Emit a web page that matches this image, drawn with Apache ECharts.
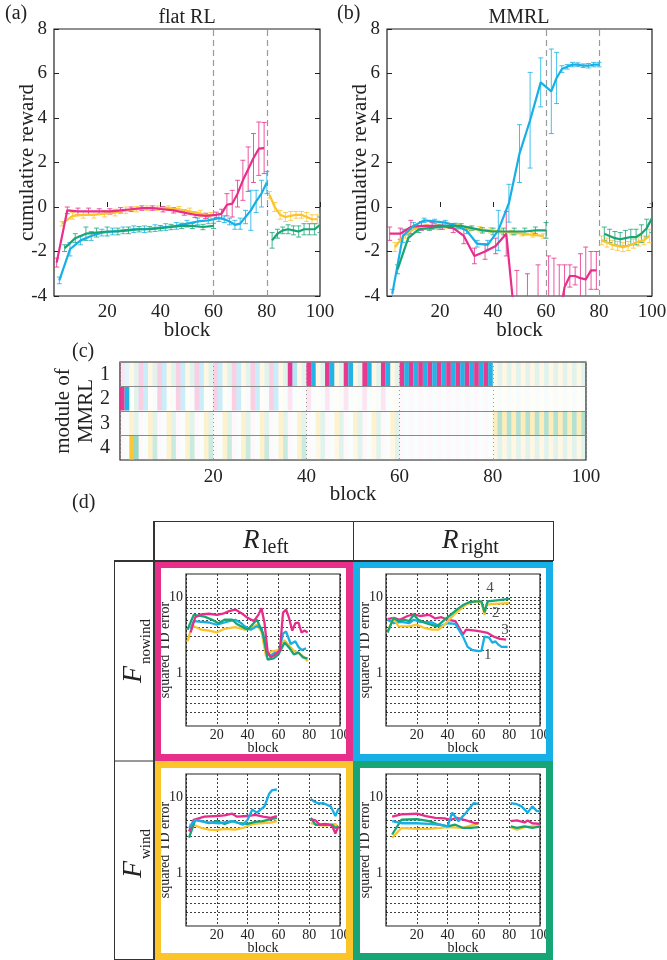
<!DOCTYPE html>
<html>
<head>
<meta charset="utf-8">
<title>flat RL vs MMRL</title>
<script src="https://cdn.jsdelivr.net/npm/echarts@6.0.0/dist/echarts.min.js"></script>
<style>
html, body { margin: 0; padding: 0; background: #fff; }
#chart { width: 667px; height: 960px; }
</style>
</head>
<body>
<div id="chart"></div>
<script>
// blocks in which each condition was run (1-60 cycle of four, 61-80 no wind, 81-100 wind)
var blocksM = [1,5,9,13,17,21,25,29,33,37,41,45,49,53,57,61,63,65,67,69,71,73,75,77,79];
var blocksC = [2,6,10,14,18,22,26,30,34,38,42,46,50,54,58,62,64,66,68,70,72,74,76,78,80];
var blocksY = [3,7,11,15,19,23,27,31,35,39,43,47,51,55,59,81,83,85,87,89,91,93,95,97,99];
var blocksG = [4,8,12,16,20,24,28,32,36,40,44,48,52,56,60,82,84,86,88,90,92,94,96,98,100];

// (a) flat RL : mean cumulative reward and error
var flatMeanM = [-2.5,-0.15,-0.2,-0.2,-0.2,-0.2,-0.15,-0.1,-0.05,-0.05,-0.1,-0.15,-0.25,-0.35,-0.4,-0.35,-0.3,0.1,0.15,0.6,1.2,1.7,2.2,2.62,2.65];
var flatErrM  = [0.2,0.15,0.15,0.15,0.12,0.12,0.12,0.1,0.1,0.1,0.12,0.12,0.12,0.12,0.12,0.12,0.2,0.5,0.6,0.6,0.9,1.0,1.1,1.2,1.15];
var flatMeanC = [-3.3,-1.9,-1.5,-1.3,-1.15,-1.1,-1.05,-1.0,-1.0,-0.95,-0.9,-0.85,-0.75,-0.65,-0.6,-0.5,-0.55,-0.65,-0.8,-0.75,-0.45,-0.15,0.25,0.6,1.1];
var flatErrC  = [0.15,0.3,0.2,0.2,0.15,0.15,0.15,0.15,0.15,0.15,0.15,0.15,0.15,0.15,0.15,0.15,0.15,0.15,0.2,0.25,0.3,0.9,0.5,0.6,0.5];
var flatMeanY = [-0.75,-0.4,-0.35,-0.35,-0.3,-0.25,-0.15,-0.1,-0.05,-0.05,-0.05,-0.1,-0.2,-0.3,-0.4,0.55,0.0,-0.35,-0.45,-0.4,-0.35,-0.35,-0.45,-0.55,-0.55];
var flatErrY  = [0.1,0.15,0.15,0.15,0.15,0.15,0.15,0.12,0.1,0.1,0.1,0.12,0.15,0.15,0.15,0.15,0.2,0.2,0.2,0.2,0.15,0.15,0.2,0.2,0.2];
var flatMeanG = [-1.85,-1.4,-1.2,-1.15,-1.1,-1.1,-1.05,-1.0,-1.0,-0.95,-0.9,-0.85,-0.85,-0.9,-0.85,-1.5,-1.2,-1.05,-1.0,-1.05,-1.1,-1.0,-1.0,-1.0,-0.8];
var flatErrG  = [0.15,0.2,0.3,0.2,0.2,0.15,0.15,0.12,0.12,0.12,0.12,0.12,0.12,0.12,0.12,0.35,0.2,0.15,0.2,0.2,0.25,0.25,0.25,0.25,0.35];

// (b) MMRL
var mmrlMeanM = [-1.2,-1.2,-0.9,-0.85,-0.85,-0.85,-0.95,-1.3,-2.2,-2.0,-1.75,-1.2,-6.0,-6.0,-6.0,-6.0,-6.0,-5.0,-3.6,-3.1,-3.1,-3.2,-3.25,-2.85,-2.85];
var mmrlErrM  = [0.3,0.25,0.3,0.2,0.15,0.15,0.2,0.35,0.35,0.35,0.35,1.0,3.15,3.0,3.4,3.8,3.7,2.4,1.0,0.5,0.4,1.1,1.45,0.85,0.85];
var mmrlMeanC = [-3.9,-1.3,-0.85,-0.6,-0.65,-0.7,-0.85,-1.05,-1.65,-1.7,-1.05,0.17,2.4,3.9,5.6,5.2,5.8,6.2,6.3,6.4,6.4,6.35,6.35,6.4,6.4];
var mmrlErrC  = [0.2,0.3,0.15,0.1,0.1,0.1,0.12,0.15,0.15,0.2,0.9,0.85,1.3,2.15,1.1,1.9,1.15,0.15,0.1,0.1,0.08,0.08,0.1,0.1,0.1];
var mmrlMeanY = [-1.8,-1.2,-0.95,-0.9,-0.9,-0.85,-0.9,-1.0,-1.0,-1.05,-1.1,-1.15,-1.2,-1.25,-1.3,-1.5,-1.6,-1.7,-1.75,-1.8,-1.75,-1.65,-1.55,-1.5,-1.3];
var mmrlErrY  = [0.2,0.2,0.15,0.12,0.12,0.12,0.12,0.12,0.12,0.12,0.1,0.1,0.1,0.1,0.1,0.2,0.2,0.2,0.2,0.2,0.2,0.2,0.2,0.2,0.3];
var mmrlMeanG = [-2.8,-1.4,-1.0,-0.95,-0.9,-0.85,-0.85,-0.95,-1.05,-1.1,-1.1,-1.1,-1.1,-1.05,-1.05,-1.2,-1.3,-1.4,-1.45,-1.4,-1.35,-1.35,-1.2,-0.95,-0.5];
var mmrlErrG  = [0.2,0.15,0.15,0.1,0.1,0.1,0.1,0.1,0.12,0.15,0.15,0.15,0.15,0.15,0.35,0.3,0.3,0.3,0.3,0.35,0.35,0.35,0.4,0.4,0.65];

var phaseBounds = [60, 80];

// (c) condition of each block and responsibility of modules 1-4 (digit 0-9)
var blockCond = ('MCYGMCYGMCYGMCYGMCYG' + 'MCYGMCYGMCYGMCYGMCYG' + 'MCYGMCYGMCYGMCYGMCYG' +
                 'MCMCMCMCMCMCMCMCMCMC' + 'YGYGYGYGYGYGYGYGYGYG').split('');
var moduleRows = [
    '11112211221122112211' + '22112211221122119311' + '99119911991199119911' + '99999999999999999999' + '11111111111111111111',
    '99012200220022002200' + '22002200220022001000' + '10001000100010001000' + '00000000000000000000' + '00000000000000000000',
    '00210021002100210021' + '00210021002100210021' + '00210021002100210021' + '00000000000000000000' + '33333333333333333333',
    '00940022002200220022' + '00220022002200220022' + '00110011001100110011' + '00000000000000000000' + '11111111111111111111'
];
var moduleNames = ['1', '2', '3', '4'];

// (d) squared TD error, [block, value]
var tdNowindLeftM = [[3,3.4],[6,5.4],[10,5.9],[15,6.0],[20,5.8],[24,6.0],[28,6.5],[32,6.8],[36,6.1],[40,5.3],[44,4.8],[47,5.8],[49,7.1],[51,4.5],[53,1.9],[55,1.6],[58,1.75],[61,2.0],[63,6.2],[65,6.8],[67,5.2],[69,3.6],[71,4.5],[73,4.6],[75,3.4],[77,3.6],[79,3.4]];
var tdNowindLeftC = [[3,3.8],[5,4.8],[10,4.7],[15,4.6],[20,4.3],[25,4.6],[28,4.8],[32,5.0],[36,4.5],[38,4.1],[42,3.7],[46,4.1],[49,3.9],[53,1.75],[55,1.7],[58,1.85],[60,1.75],[63,3.3],[65,3.5],[68,2.4],[71,2.6],[73,2.2],[75,2.0],[78,2.1]];
var tdNowindLeftY = [[1,2.6],[4,4.2],[10,3.7],[15,3.6],[20,3.4],[25,3.8],[32,4.0],[38,3.7],[42,3.9],[46,4.3],[49,3.5],[52,1.65],[55,1.9],[60,2.0],[64,2.7],[66,2.4],[70,1.95],[73,1.85],[76,1.65],[79,1.42]];
var tdNowindLeftG = [[1,3.7],[5,5.8],[12,5.5],[17,5.0],[21,4.5],[25,5.0],[30,5.0],[33,4.4],[40,3.7],[43,4.3],[46,5.0],[50,3.3],[53,1.5],[57,1.55],[60,1.75],[64,2.5],[67,2.15],[70,1.75],[73,1.85],[76,1.6],[79,1.55]];

var tdNowindRightM = [[1,5.1],[5,5.3],[9,5.0],[14,5.6],[18,5.9],[22,5.6],[28,5.8],[32,5.2],[36,5.4],[40,5.0],[45,4.8],[50,3.2],[52,3.7],[58,3.6],[62,3.5],[66,3.35],[70,3.0],[74,2.8],[78,2.74]];
var tdNowindRightC = [[1,5.0],[5,4.5],[10,4.7],[15,4.5],[18,5.0],[22,4.7],[30,4.6],[35,4.1],[40,4.5],[45,4.4],[50,3.0],[53,2.2],[56,2.0],[60,1.93],[62,1.95],[64,3.0],[67,2.9],[69,2.5],[71,2.6],[73,2.35],[75,2.2],[79,2.2]];
var tdNowindRightY = [[1,3.5],[5,5.3],[8,4.1],[15,4.1],[20,4.3],[25,3.9],[30,3.7],[34,3.7],[38,4.3],[41,5.0],[44,5.8],[48,6.8],[52,7.9],[56,8.5],[60,8.7],[62,8.4],[64,5.8],[65,7.9],[70,8.1],[80,8.3]];
var tdNowindRightG = [[1,3.4],[5,5.3],[8,4.8],[12,5.0],[15,4.8],[18,5.8],[21,5.0],[26,4.5],[33,4.1],[38,5.0],[42,5.8],[46,6.8],[50,7.8],[54,8.5],[58,8.7],[62,8.7],[64,6.3],[66,8.7],[72,9.0],[80,9.4]];

var tdWindLeftM = [[2,3.5],[5,5.0],[12,5.5],[20,5.6],[25,5.7],[30,6.0],[33,5.5],[40,5.6],[45,5.8],[50,5.5],[55,5.3],[59,5.6],[70,'-'],[81,5.1],[84,4.9],[87,4.3],[90,4.4],[93,4.3],[95,4.1],[97,3.3],[99,4.1]];
var tdWindLeftC = [[2,3.9],[6,5.0],[10,4.8],[15,4.6],[22,4.5],[30,4.8],[33,4.6],[37,4.3],[40,5.0],[43,6.8],[46,6.2],[51,7.5],[54,11],[56,12.3],[59,12.5],[70,'-'],[81,9.4],[83,8.7],[86,8.2],[89,8.3],[92,7.8],[94,7.5],[97,5.6],[99,7.0]];
var tdWindLeftY = [[2,4.3],[5,4.3],[10,3.9],[15,3.7],[20,3.65],[25,3.8],[32,3.7],[37,3.9],[42,4.3],[48,4.5],[55,4.6],[59,4.8],[70,'-'],[81,4.5],[85,4.3],[90,4.2],[95,4.3],[97,4.4],[99,3.9]];
var tdWindLeftG = [[2,2.9],[6,5.0],[10,4.8],[15,4.5],[20,4.8],[25,4.4],[30,4.8],[35,4.5],[40,4.4],[45,4.7],[50,4.8],[55,5.1],[59,5.3],[70,'-'],[81,5.3],[84,4.3],[90,4.3],[95,4.3],[97,3.9],[99,4.1]];

var tdWindRightM = [[4,5.5],[10,5.9],[20,6.0],[26,5.6],[32,5.3],[38,5.2],[42,5.0],[46,5.3],[52,4.9],[58,4.5],[60,4.5],[70,'-'],[81,4.8],[85,4.9],[90,4.6],[92,4.9],[95,4.5],[100,4.4]];
var tdWindRightC = [[4,4.8],[10,4.5],[20,4.5],[28,4.4],[35,4.3],[40,4.1],[43,6.2],[47,4.8],[52,6.2],[57,8.3],[60,8.1],[70,'-'],[81,8.3],[85,8.0],[88,7.5],[92,6.2],[95,7.5],[98,6.5],[100,6.5]];
var tdWindRightY = [[4,2.9],[10,3.9],[20,3.8],[28,3.8],[35,3.9],[40,4.0],[50,3.9],[55,4.2],[60,4.45],[70,'-'],[81,4.0],[85,3.7],[90,4.0],[95,4.1],[100,4.1]];
var tdWindRightG = [[4,3.2],[10,5.0],[20,5.1],[28,4.8],[35,4.3],[40,4.1],[45,4.3],[50,3.9],[55,3.9],[60,4.0],[70,'-'],[81,4.1],[85,3.9],[90,4.1],[95,3.9],[100,4.1]];

var tdGridVals = [0.3,0.4,0.5,0.6,0.7,0.8,0.9,1,2,3,4,5,6,7,8,9,10];
var tdNoteBlocks = [66, 71.2, 77.3, 67.5];
var tdNoteValues = [1.72, 6.1, 3.7, 13];
var tdNoteText = ['1', '2', '3', '4'];

var FONT = '"Liberation Serif","Times New Roman",serif';
var INK = '#222';
var COLORS = {M: '#E62E8A', C: '#17B0E6', Y: '#FCC42B', G: '#17A576'};

function rgba(hex, a) {
    var n = parseInt(hex.slice(1), 16);
    return 'rgba(' + (n >> 16) + ',' + ((n >> 8) & 255) + ',' + (n & 255) + ',' + a + ')';
}

function renderErrorBar(params, api) {
    var x = api.value(0);
    var top = api.coord([x, api.value(2)]);
    var bot = api.coord([x, api.value(1)]);
    var cs = params.coordSys;
    var yTop = Math.max(top[1], cs.y), yBot = Math.min(bot[1], cs.y + cs.height);
    if (yTop >= yBot) return null;
    var c = api.visual('color');
    var cap = 2.5;
    var kids = [{type: 'line', shape: {x1: top[0], y1: yTop, x2: top[0], y2: yBot}, style: {stroke: c, lineWidth: 1, opacity: 0.8}}];
    if (top[1] >= cs.y) {
        kids.push({type: 'line', shape: {x1: top[0] - cap, y1: top[1], x2: top[0] + cap, y2: top[1]}, style: {stroke: c, lineWidth: 1, opacity: 0.8}});
    }
    if (bot[1] <= cs.y + cs.height) {
        kids.push({type: 'line', shape: {x1: bot[0] - cap, y1: bot[1], x2: bot[0] + cap, y2: bot[1]}, style: {stroke: c, lineWidth: 1, opacity: 0.8}});
    }
    return {type: 'group', children: kids};
}

function renderCell(params, api) {
    var b = api.value(0), r = api.value(1);
    var p0 = api.coord([b - 1, r]), p1 = api.coord([b, r]);
    var h = api.size([1, 1])[1];
    return {
        type: 'rect',
        shape: {x: p0[0], y: p0[1] - h / 2 + 0.5, width: p1[0] - p0[0], height: h - 1},
        style: {fill: api.visual('color')}
    };
}

function meanLine(gi, blocks, means, key) {
    var data = [];
    for (var i = 0; i < blocks.length; i++) {
        if (i > 0 && blocks[i] - blocks[i - 1] > 10) data.push([(blocks[i] + blocks[i - 1]) / 2, '-']);
        data.push([blocks[i], means[i]]);
    }
    return {
        type: 'line', xAxisIndex: gi, yAxisIndex: gi, data: data,
        symbol: 'none', connectNulls: false, z: 3,
        lineStyle: {color: COLORS[key], width: 2.2}, itemStyle: {color: COLORS[key]}
    };
}

function errBars(gi, blocks, means, errs, key) {
    var data = blocks.map(function (b, i) { return [b, means[i] - errs[i], means[i] + errs[i]]; });
    return {
        type: 'custom', xAxisIndex: gi, yAxisIndex: gi, data: data, clip: true, z: 2,
        renderItem: renderErrorBar, encode: {x: 0, y: [1, 2]}, itemStyle: {color: COLORS[key]}
    };
}

function tdLine(gi, data, key) {
    return {
        type: 'line', xAxisIndex: gi, yAxisIndex: gi, data: data,
        symbol: 'none', connectNulls: false, z: 3,
        lineStyle: {color: COLORS[key], width: 2.3}, itemStyle: {color: COLORS[key]}
    };
}

var grids = [
    {left: 54, top: 29, width: 266, height: 267},
    {left: 387, top: 29, width: 265, height: 267},
    {left: 120, top: 362, width: 466, height: 98},
    {left: 186, top: 574, width: 154, height: 152},
    {left: 386, top: 574, width: 154, height: 152},
    {left: 186, top: 774, width: 154, height: 152},
    {left: 386, top: 774, width: 154, height: 152}
].map(function (g) {
    g.show = true; g.borderColor = INK; g.borderWidth = 1.2; g.backgroundColor = 'transparent';
    g.outerBoundsMode = 'none';
    return g;
});

var xAxes = [], yAxes = [];
[0, 1, 2].forEach(function (gi) {
    xAxes.push({
        gridIndex: gi, type: 'value', min: 0, max: 100, interval: 20,
        axisLine: {show: false},
        axisTick: {show: gi < 2, inside: true, length: 5, lineStyle: {color: INK}},
        axisLabel: {showMinLabel: false, showMaxLabel: true, fontSize: 19, fontFamily: FONT, color: INK, margin: gi < 2 ? 7 : 8},
        splitLine: gi === 2 ? {show: true, lineStyle: {type: [1, 3], color: '#9a9a9a', width: 1}} : {show: false},
        name: 'block', nameLocation: 'middle', nameGap: 24, nameMoveOverlap: false,
        nameTextStyle: {fontSize: 21, fontFamily: FONT, color: INK}
    });
});
[3, 4, 5, 6].forEach(function (gi) {
    xAxes.push({
        gridIndex: gi, type: 'value', min: 0, max: 100, interval: 20,
        axisLine: {show: false}, axisTick: {show: false},
        axisLabel: {showMinLabel: false, showMaxLabel: true, fontSize: 14, fontFamily: FONT, color: INK, margin: 2},
        splitLine: {show: true, lineStyle: {type: [2, 2], color: '#111', width: 0.8}},
        name: 'block', nameLocation: 'middle', nameGap: 15, nameMoveOverlap: false,
        nameTextStyle: {fontSize: 14, fontFamily: FONT, color: INK}
    });
});

[0, 1].forEach(function (gi) {
    yAxes.push({
        gridIndex: gi, type: 'value', min: -4, max: 8, interval: 2,
        axisLine: {show: false},
        axisTick: {inside: true, length: 5, lineStyle: {color: INK}},
        axisLabel: {fontSize: 19, fontFamily: FONT, color: INK, margin: 7},
        splitLine: {show: false},
        name: 'cumulative reward', nameLocation: 'middle', nameGap: 16, nameMoveOverlap: false,
        nameTextStyle: {fontSize: 21, fontFamily: FONT, color: INK}
    });
});
yAxes.push({
    gridIndex: 2, type: 'category', data: moduleNames, inverse: true,
    axisLine: {show: false}, axisTick: {show: false},
    axisLabel: {interval: 0, fontSize: 20, fontFamily: FONT, color: INK, margin: 10},
    splitLine: {show: true, interval: 0, lineStyle: {color: '#8a8a8a', width: 1}},
    name: 'module of\nMMRL', nameLocation: 'middle', nameGap: 22, nameRotate: 90, nameMoveOverlap: false,
    nameTextStyle: {fontSize: 21, fontFamily: FONT, color: INK, lineHeight: 23}
});
[3, 4, 5, 6].forEach(function (gi) {
    yAxes.push({
        gridIndex: gi, type: 'log', logBase: 10, min: 0.2, max: 20,
        axisLine: {show: false}, axisTick: {show: false},
        axisLabel: {
            fontSize: 14, fontFamily: FONT, color: INK, margin: 3,
            formatter: function (v) {
                var l = Math.log(v) / Math.LN10;
                return Math.abs(l - Math.round(l)) < 1e-6 ? String(Math.round(v)) : '';
            }
        },
        splitLine: {show: false},
        name: 'squared TD error', nameLocation: 'middle', nameGap: 14, nameMoveOverlap: false,
        nameTextStyle: {fontSize: 14, fontFamily: FONT, color: INK}
    });
});
// right-hand ticks for (a) and (b)
[0, 1].forEach(function (gi) {
    yAxes.push({
        gridIndex: gi, type: 'value', position: 'right', min: -4, max: 8, interval: 2,
        axisLine: {show: false}, axisTick: {inside: true, length: 5, lineStyle: {color: INK}},
        axisLabel: {show: false}, splitLine: {show: false}
    });
});

var series = [];
function rewardPanel(gi, means, errs) {
    var keys = ['Y', 'M', 'C', 'G'];
    var blocks = {M: blocksM, C: blocksC, Y: blocksY, G: blocksG};
    keys.forEach(function (k) { series.push(errBars(gi, blocks[k], means[k], errs[k], k)); });
    keys.forEach(function (k) { series.push(meanLine(gi, blocks[k], means[k], k)); });
    series[series.length - 4].markLine = {
        silent: true, symbol: ['none', 'none'], z: 1, animation: false,
        label: {show: false},
        lineStyle: {type: [6, 4], color: '#9a9a9a', width: 1.2},
        data: phaseBounds.map(function (v) { return {xAxis: v}; })
    };
}
rewardPanel(0, {M: flatMeanM, C: flatMeanC, Y: flatMeanY, G: flatMeanG}, {M: flatErrM, C: flatErrC, Y: flatErrY, G: flatErrG});
rewardPanel(1, {M: mmrlMeanM, C: mmrlMeanC, Y: mmrlMeanY, G: mmrlMeanG}, {M: mmrlErrM, C: mmrlErrC, Y: mmrlErrY, G: mmrlErrG});

// (c) module responsibility strips
var cells = [];
moduleRows.forEach(function (row, r) {
    for (var b = 1; b <= 100; b++) {
        var d = +row.charAt(b - 1);
        var a = d >= 9 ? 0.95 : 0.03 + d * 0.1;
        cells.push({value: [b, r], itemStyle: {color: rgba(COLORS[blockCond[b - 1]], a.toFixed(2))}});
    }
});
series.push({type: 'custom', xAxisIndex: 2, yAxisIndex: 2, data: cells, renderItem: renderCell, encode: {x: 0, y: 1}, z: 2});

// (d) squared TD error
var tdSets = [
    [3, {Y: tdNowindLeftY, C: tdNowindLeftC, G: tdNowindLeftG, M: tdNowindLeftM}],
    [4, {M: tdNowindRightM, C: tdNowindRightC, Y: tdNowindRightY, G: tdNowindRightG}],
    [5, {Y: tdWindLeftY, G: tdWindLeftG, M: tdWindLeftM, C: tdWindLeftC}],
    [6, {Y: tdWindRightY, G: tdWindRightG, M: tdWindRightM, C: tdWindRightC}]
];
tdSets.forEach(function (s) {
    var gi = s[0], first = true;
    Object.keys(s[1]).forEach(function (k) {
        var ser = tdLine(gi, s[1][k], k);
        if (first) {
            ser.markLine = {
                silent: true, symbol: ['none', 'none'], z: 1, animation: false,
                label: {show: false},
                lineStyle: {type: [2, 2], color: '#111', width: 0.8},
                data: tdGridVals.map(function (v) { return {yAxis: v}; })
            };
            first = false;
        }
        series.push(ser);
    });
});
series.push({
    type: 'scatter', xAxisIndex: 4, yAxisIndex: 4, symbolSize: 1, z: 4,
    itemStyle: {color: 'transparent'},
    label: {show: true, position: 'inside', fontSize: 15, fontFamily: FONT, color: INK, formatter: '{b}'},
    data: tdNoteBlocks.map(function (b, i) { return {name: tdNoteText[i], value: [b, tdNoteValues[i]]}; })
});

function txt(x, y, text, size, opt) {
    opt = opt || {};
    return {
        type: 'text', x: x, y: y, rotation: opt.rot || 0, z: 10,
        style: {
            text: text, fontSize: size, fontFamily: FONT, fontStyle: opt.italic ? 'italic' : 'normal',
            fill: INK, align: opt.align || 'left', verticalAlign: 'middle'
        }
    };
}
function seg(x1, y1, x2, y2, w) {
    return {type: 'line', z: 11, shape: {x1: x1, y1: y1, x2: x2, y2: y2}, style: {stroke: '#333', lineWidth: w || 1}};
}
function frame(x, y, w, h, color) {
    return {type: 'rect', z: 9, shape: {x: x + 3.5, y: y + 3.5, width: w - 7, height: h - 7}, style: {fill: 'none', stroke: color, lineWidth: 7}};
}

var graphics = [
    txt(5, 14, '(a)', 20), txt(337, 14, '(b)', 20),
    txt(187, 18, 'flat RL', 20, {align: 'center'}), txt(519, 18, 'MMRL', 20, {align: 'center'}),
    txt(72, 352, '(c)', 20), txt(72, 503, '(d)', 20),
    frame(154, 561, 199, 200, COLORS.M), frame(353, 561, 200, 200, COLORS.C),
    frame(154, 761, 199, 199, COLORS.Y), frame(353, 761, 200, 199, COLORS.G),
    seg(154, 521.5, 553, 521.5), seg(553.5, 521, 553.5, 561), seg(353.5, 521, 353.5, 561),
    seg(114, 561, 553, 561, 2), seg(154, 521, 154, 960, 2), seg(114.5, 561, 114.5, 960),
    seg(114, 761, 154, 761), seg(114, 959.5, 154, 959.5),
    txt(243, 541, 'R', 27, {italic: true}), txt(262, 548, 'left', 20),
    txt(442, 541, 'R', 27, {italic: true}), txt(461, 548, 'right', 20),
    txt(134, 683, 'F', 28, {italic: true, rot: Math.PI / 2}), txt(146, 664, 'nowind', 15, {rot: Math.PI / 2}),
    txt(134, 878, 'F', 28, {italic: true, rot: Math.PI / 2}), txt(146, 859, 'wind', 15, {rot: Math.PI / 2})
];

var chart = echarts.init(document.getElementById('chart'), null, {renderer: 'canvas'});
chart.setOption({
    animation: false,
    backgroundColor: '#fff',
    textStyle: {fontFamily: FONT},
    grid: grids,
    xAxis: xAxes,
    yAxis: yAxes,
    series: series,
    graphic: {elements: graphics}
});
</script>
</body>
</html>
